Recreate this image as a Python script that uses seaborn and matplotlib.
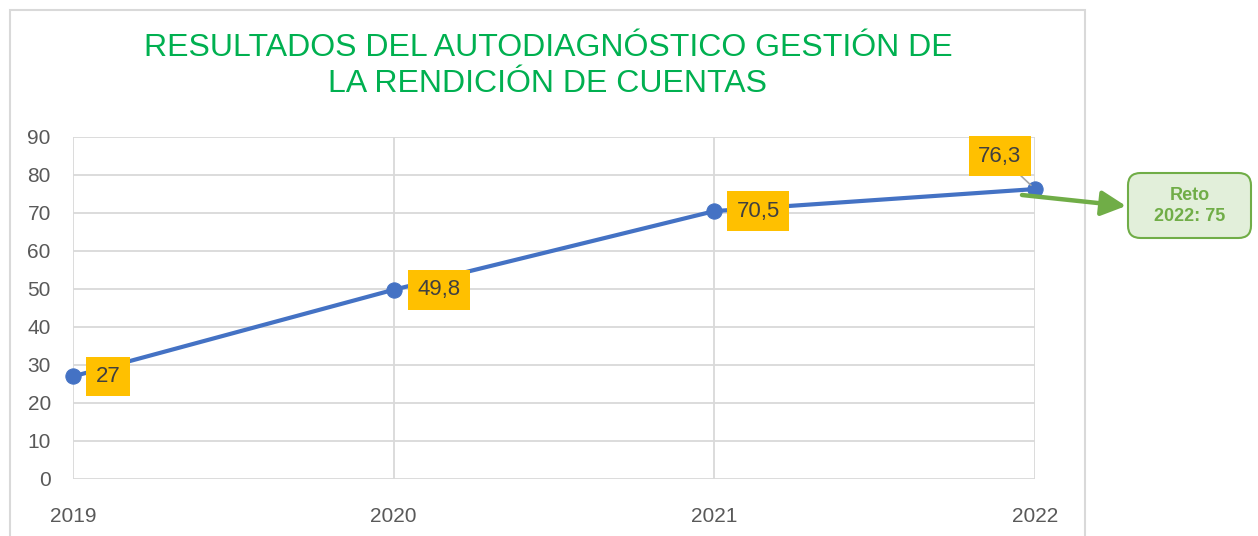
import matplotlib
matplotlib.use("Agg")
import matplotlib.pyplot as plt
import seaborn as sns
import pandas as pd
from matplotlib.patches import Rectangle, FancyBboxPatch, FancyArrowPatch

years = [2019, 2020, 2021, 2022]
scores = [27, 49.8, 70.5, 76.3]
labels = ["27", "49,8", "70,5", "76,3"]
title = "RESULTADOS DEL AUTODIAGNÓSTICO GESTIÓN DE\nLA RENDICIÓN DE CUENTAS"
target_text = "Reto\n2022: 75"

sns.set_style("white")
plt.rcParams['font.family'] = ['Liberation Sans', 'DejaVu Sans']

fig = plt.figure(figsize=(12.58, 5.36), dpi=100)
ax = fig.add_axes([73/1258, 57/536, (1035-73)/1258, (479-137)/536])

df = pd.DataFrame({"year": years, "score": scores})
sns.lineplot(data=df, x="year", y="score", ax=ax, color="#4472C4", linewidth=3,
             marker="o", markersize=11, markeredgecolor="#4472C4", zorder=3, clip_on=False)

ax.set_xlim(2019, 2022)
ax.set_ylim(0, 90)
ax.set_xticks(years)
ax.set_xticklabels([str(y) for y in years])
ax.set_yticks(range(0, 91, 10))
ax.grid(True, color="#D9D9D9", linewidth=1.3)
for s in ax.spines.values():
    s.set_visible(False)
ax.tick_params(axis="both", length=0, labelsize=15, colors="#595959")
ax.tick_params(axis="x", pad=20)
ax.tick_params(axis="y", pad=16)
ax.set_xlabel("")
ax.set_ylabel("")

offsets = [(35, 0), (45, 0), (44, 0), (-35, 33)]
for x, y, lab, off in zip(years, scores, labels, offsets):
    arrow = None
    if off[1] != 0:
        arrow = dict(arrowstyle="-", color="#A6A6A6", lw=1.2, shrinkA=0, shrinkB=4)
    ax.annotate(lab, (x, y), xytext=off, textcoords="offset pixels",
                ha="center", va="center", fontsize=16, color="#404040",
                bbox=dict(boxstyle="square,pad=0.42", fc="#FFC000", ec="none"),
                arrowprops=arrow, zorder=5, annotation_clip=False)

fig.text(548/1258, 1 - 66/536, title, ha="center", va="center", fontsize=23,
         color="#00B050", linespacing=1.3)

# outer frame
fig.patches.append(Rectangle((10/1258, -0.05), (1085-10)/1258, 1.05 - 10/536,
                             transform=fig.transFigure, fill=False,
                             ec="#D9D9D9", lw=1.5))

# target callout
box = FancyBboxPatch((1128/1258, 1 - 238/536), (1251-1128)/1258, (238-173)/536,
                     boxstyle="round,pad=0,rounding_size=0.010",
                     transform=fig.transFigure, fc="#E2EFDA", ec="#70AD47", lw=1.5,
                     mutation_aspect=2.3)
fig.patches.append(box)
fig.text(1190/1258, 1 - 206/536, target_text, ha="center", va="center",
         fontsize=13, fontweight="bold", color="#70AD47", linespacing=1.25)
fig.patches.append(FancyArrowPatch(
    (1022/1258, 1 - 195/536), (1126/1258, 1 - 206/536),
    transform=fig.transFigure, arrowstyle="-|>,head_length=0.75,head_width=0.38",
    mutation_scale=20, color="#70AD47", lw=3.2, shrinkA=0, shrinkB=0))

fig.savefig("out.png", dpi=100)
